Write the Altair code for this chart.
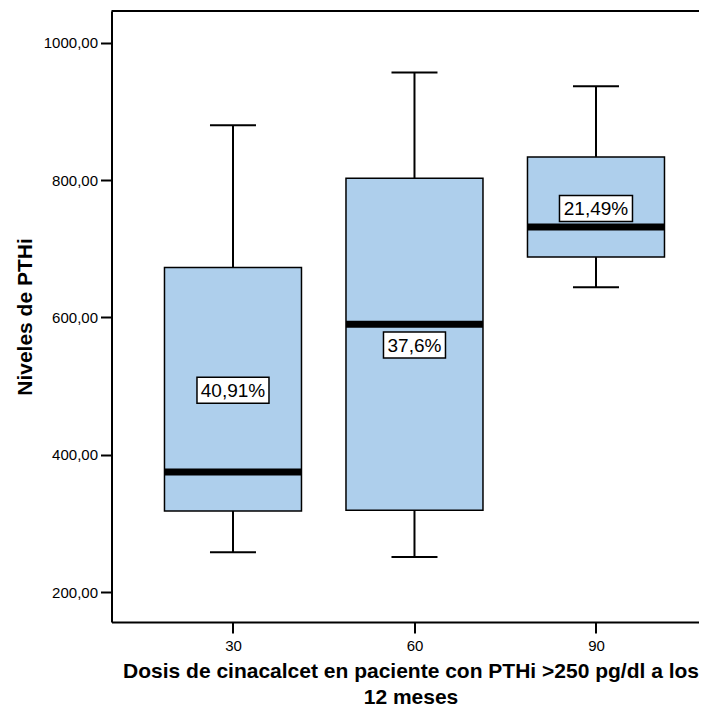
import altair as alt
import pandas as pd

# ---- data ----
dosis = [30, 60, 90]
minimo = [258, 251, 644]
q1 = [318, 319, 688]
mediana = [375, 590, 732]
q3 = [673, 803, 834]
maximo = [880, 957, 937]
etiquetas = ["40,91%", "37,6%", "21,49%"]
etiqueta_y = [494, 560, 759]
y_ticks = [200, 400, 600, 800, 1000]

df = pd.DataFrame(dict(dosis=dosis, minimo=minimo, q1=q1, mediana=mediana,
                       q3=q3, maximo=maximo, etiqueta=etiquetas,
                       etiqueta_y=etiqueta_y))

# ---- styles / layout ----
FONT = "Liberation Sans"
W, H = 587.5, 611
PX_PER_UNIT = 6.05
X_MIN = 9.92
X_DOMAIN = [X_MIN, X_MIN + W / PX_PER_UNIT]
Y_DOMAIN = [156.3, 1046.6]
BOX_W = 137
CAP_W = 46
LABEL_W = [72, 62, 73]
LABEL_H = 26
BOX_FILL = "#aecfec"

xs = alt.Scale(domain=X_DOMAIN, nice=False, zero=False)
ys = alt.Scale(domain=Y_DOMAIN, nice=False, zero=False)

x_axis = alt.Axis(
    values=dosis, format="d", grid=False,
    title=["Dosis de cinacalcet en paciente con PTHi >250 pg/dl a los", "12 meses"],
    titleX=299, titleY=55, titleAlign="center", titleBaseline="alphabetic",
    titleLineHeight=26, labelPadding=5,
)
y_axis = alt.Axis(
    values=y_ticks, grid=False, title="Niveles de PTHi",
    labelExpr="replace(format(datum.value, '.2f'), '.', ',')",
    titleX=-86.5, titleY=H / 2, titleAngle=270, titleAlign="center",
    titleBaseline="middle", labelPadding=3,
)


def X():
    return alt.X("dosis:Q", scale=xs, axis=x_axis)


def Y(field):
    return alt.Y(f"{field}:Q", scale=ys, axis=y_axis)


base = alt.Chart(df)

whisk_lo = base.mark_rule(color="black", strokeWidth=2).encode(
    x=X(), y=Y("minimo"), y2="q1:Q")
whisk_hi = base.mark_rule(color="black", strokeWidth=2).encode(
    x=X(), y=Y("q3"), y2="maximo:Q")
cap_lo = base.mark_rule(color="black", strokeWidth=2,
                        xOffset=-CAP_W / 2, x2Offset=CAP_W / 2).encode(
    x=X(), x2="dosis:Q", y=Y("minimo"))
cap_hi = base.mark_rule(color="black", strokeWidth=2,
                        xOffset=-CAP_W / 2, x2Offset=CAP_W / 2).encode(
    x=X(), x2="dosis:Q", y=Y("maximo"))
box = base.mark_rect(fill=BOX_FILL, stroke="black", strokeWidth=1.5,
                     xOffset=-BOX_W / 2, x2Offset=BOX_W / 2).encode(
    x=X(), x2="dosis:Q", y=Y("q1"), y2="q3:Q")
median = base.mark_rule(color="black", strokeWidth=7, strokeCap="butt",
                        xOffset=-BOX_W / 2, x2Offset=BOX_W / 2).encode(
    x=X(), x2="dosis:Q", y=Y("mediana"))

label_boxes = []
for d, w in zip(dosis, LABEL_W):
    label_boxes.append(
        base.transform_filter(alt.datum.dosis == d).mark_rect(
            fill="white", stroke="black", strokeWidth=1.5,
            xOffset=-w / 2, x2Offset=w / 2,
            yOffset=-LABEL_H / 2, y2Offset=LABEL_H / 2,
        ).encode(x=X(), x2="dosis:Q", y=Y("etiqueta_y"), y2="etiqueta_y:Q")
    )

label_text = base.mark_text(font=FONT, fontSize=19, color="black",
                            baseline="middle", align="center", dy=1).encode(
    x=X(), y=Y("etiqueta_y"), text="etiqueta:N")

top_border = alt.Chart(pd.DataFrame({"k": [0]})).mark_rule(
    color="black", strokeWidth=2).encode(
    x=alt.value(0), x2=alt.value(W + 20), y=alt.value(0))

chart = alt.layer(
    whisk_lo, whisk_hi, cap_lo, cap_hi, box, median, *label_boxes, label_text,
    top_border,
).properties(
    width=W, height=H, background="white",
    padding={"left": 103.5, "top": 3, "right": 0, "bottom": 84},
    autosize=alt.AutoSizeParams(type="none"),
).configure_view(stroke=None).configure_axis(
    labelFont=FONT, labelFontSize=15, labelColor="black",
    titleFont=FONT, titleFontSize=21, titleFontWeight="bold", titleColor="black",
    domainColor="black", domainWidth=2, tickColor="black", tickWidth=2,
    tickSize=11,
)

chart.save("out.html", embed_options={"renderer": "svg", "actions": False})
